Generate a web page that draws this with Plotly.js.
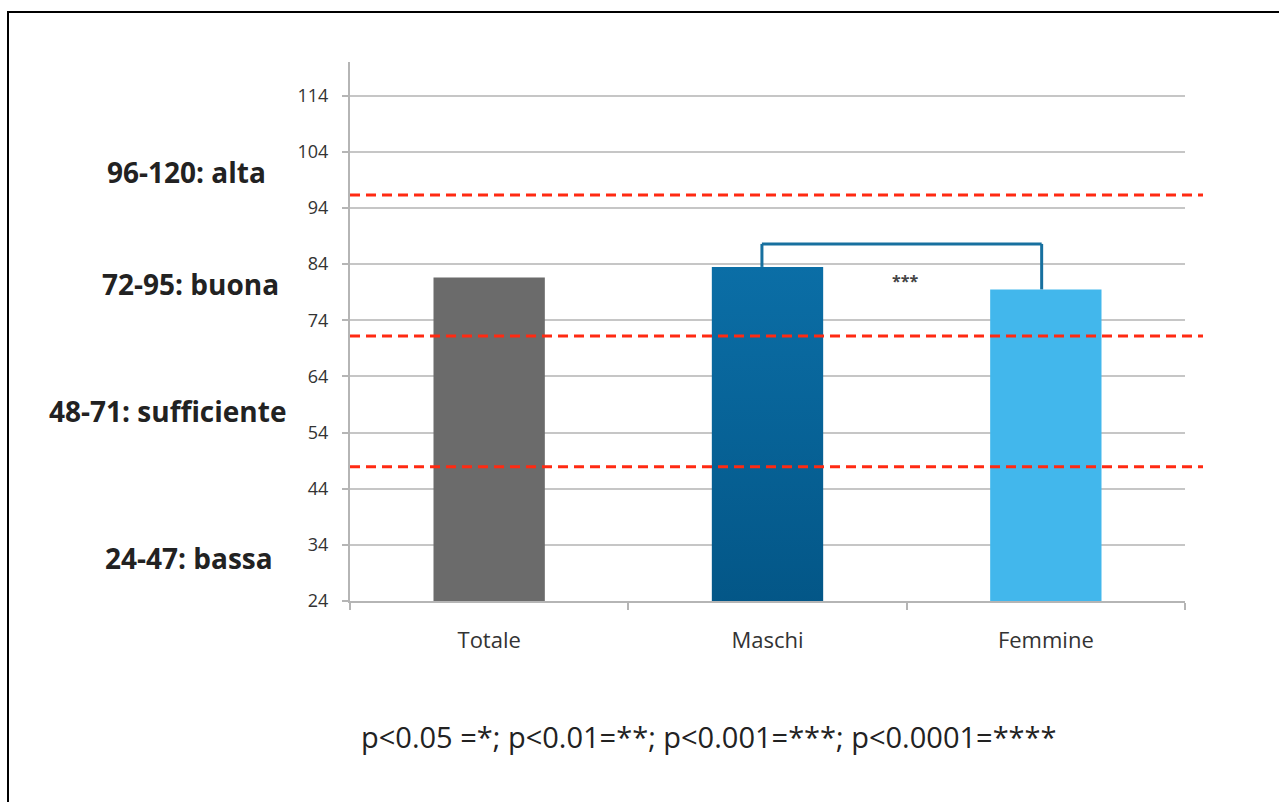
<!DOCTYPE html>
<html>
<head>
<meta charset="utf-8">
<script src="https://cdn.plot.ly/plotly-3.0.1.min.js"></script>
<style>html,body{margin:0;padding:0;background:#fff;}#chart{width:1279px;height:802px;}</style>
</head>
<body>
<div id="chart"></div>
<script>
// ---- data ----
var categories = ["Totale", "Maschi", "Femmine"];
var values = [81.6, 83.5, 79.5];
var barColors = ["#6b6b6b", "#0a6aa1", "#42b7ec"];
var yTickVals = [24, 34, 44, 54, 64, 74, 84, 94, 104, 114];
var yRange = [24, 120];
var thresholds = [96.3, 71.2, 47.9];
var bandLabels = ["96-120: alta", "72-95: buona", "48-71: sufficiente", "24-47: bassa"];
var bandLabelPos = [[186, 172], [190, 284], [167, 411], [189, 558]]; // pixel centres
var bracketTop = 87.6;
var sigText = "***";
var footnote = "p<0.05 =*; p<0.01=**; p<0.001=***; p<0.0001=****";

// ---- layout geometry ----
var W = 1279, H = 802;
var mL = 350, mR = 94, mT = 62, mB = 201;
var pw = W - mL - mR, ph = H - mT - mB;
function px2x(p) { return (p - mL) / pw; }
function py2y(p) { return (H - mB - p) / ph; }

var shapes = [];
// outer frame
shapes.push({type: "rect", xref: "paper", yref: "paper",
  x0: px2x(8), x1: px2x(1400), y0: py2y(900), y1: py2y(12),
  line: {color: "#000", width: 2}, fillcolor: "rgba(0,0,0,0)", layer: "below"});
// threshold lines
thresholds.forEach(function (t) {
  shapes.push({type: "line", xref: "paper", yref: "y", x0: 0, x1: px2x(1203), y0: t, y1: t,
    line: {color: "#ff2a12", width: 3, dash: "10px,6px"}, layer: "above"});
});
// significance bracket (Maschi vs Femmine)
var bx0 = 0.98, bx1 = 1.985;
var bracketLine = {color: "#17709f", width: 3};
shapes.push({type: "line", xref: "x", yref: "y", x0: bx0, x1: bx0, y0: values[1], y1: bracketTop, line: bracketLine});
shapes.push({type: "line", xref: "x", yref: "y", x0: bx0, x1: bx1, y0: bracketTop, y1: bracketTop, line: bracketLine});
shapes.push({type: "line", xref: "x", yref: "y", x0: bx1, x1: bx1, y0: bracketTop, y1: values[2], line: bracketLine});

var annotations = [];
bandLabels.forEach(function (t, i) {
  annotations.push({text: "<b>" + t + "</b>", xref: "paper", yref: "paper",
    x: px2x(bandLabelPos[i][0]), y: py2y(bandLabelPos[i][1]), xanchor: "center", yanchor: "middle",
    showarrow: false, font: {family: "Open Sans", size: 28, color: "#222"}});
});
annotations.push({text: "<b>" + sigText + "</b>", xref: "paper", yref: "paper",
  x: px2x(905), y: py2y(281), xanchor: "center", yanchor: "middle", showarrow: false,
  font: {family: "Open Sans", size: 16, color: "#444"}});
annotations.push({text: footnote, xref: "paper", yref: "paper",
  x: px2x(709), y: py2y(736), xanchor: "center", yanchor: "middle", showarrow: false,
  font: {family: "Open Sans", size: 29, color: "#222"}});

var trace = {
  type: "bar", x: categories, y: values, width: 0.4,
  marker: {color: barColors, line: {width: 0}},
  hoverinfo: "skip"
};

var axisGrey = "#b5b5b5";
var layout = {
  width: W, height: H,
  margin: {l: mL, r: mR, t: mT, b: mB, pad: 0},
  paper_bgcolor: "#fff", plot_bgcolor: "#fff",
  showlegend: false,
  xaxis: {type: "category", showline: true, linecolor: axisGrey, linewidth: 2,
    ticks: "outside", tickson: "boundaries", ticklen: 7, tickwidth: 2, tickcolor: axisGrey,
    showgrid: false, zeroline: false, ticklabelstandoff: 19,
    tickfont: {family: "Open Sans", size: 22, color: "#333"}},
  yaxis: {range: yRange, tickvals: yTickVals, ticktext: yTickVals.map(String),
    showline: true, linecolor: axisGrey, linewidth: 2,
    ticks: "outside", ticklen: 6, tickwidth: 2, tickcolor: axisGrey,
    showgrid: true, gridcolor: "#c6c6c6", gridwidth: 2, zeroline: false,
    ticklabelstandoff: 10,
    tickfont: {family: "Open Sans", size: 18, color: "#333"}},
  shapes: shapes, annotations: annotations
};

Plotly.newPlot("chart", [trace], layout, {staticPlot: true}).then(function (gd) {
  // vertical gradient on the Maschi bar
  var svg = gd.querySelector(".main-svg");
  var ns = "http://www.w3.org/2000/svg";
  var defs = svg.querySelector("defs") || svg.insertBefore(document.createElementNS(ns, "defs"), svg.firstChild);
  var g = document.createElementNS(ns, "linearGradient");
  g.setAttribute("id", "maschiGrad");
  g.setAttribute("x1", "0"); g.setAttribute("y1", "0"); g.setAttribute("x2", "0"); g.setAttribute("y2", "1");
  [["0", "#0b6ea6"], ["1", "#004d7b"]].forEach(function (s) {
    var st = document.createElementNS(ns, "stop");
    st.setAttribute("offset", s[0]); st.setAttribute("stop-color", s[1]);
    g.appendChild(st);
  });
  defs.appendChild(g);
  var paths = gd.querySelectorAll(".barlayer .point path");
  if (paths[1]) paths[1].style.fill = "url(#maschiGrad)";
});
</script>
</body>
</html>
